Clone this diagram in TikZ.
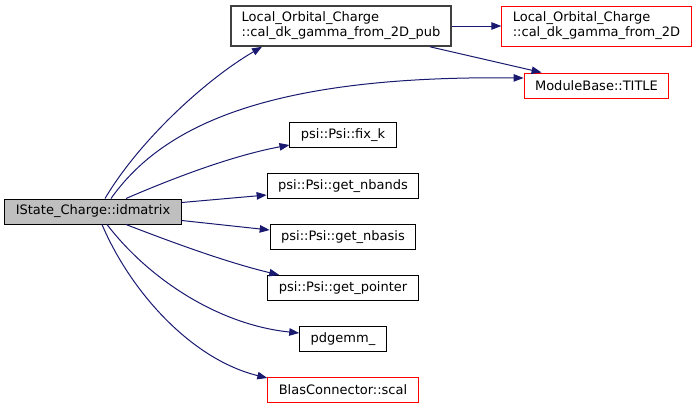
\documentclass[tikz,border=0pt]{standalone}
\usepackage{fontspec}
\setmainfont{DejaVu Sans}
\usetikzlibrary{arrows.meta, positioning}

\definecolor{edgeblue}{RGB}{25,25,112}
\definecolor{rootgray}{RGB}{191,191,191}

\begin{document}
\begin{tikzpicture}[x=1pt, y=1pt, node distance=51pt,
    block/.style={rectangle, draw=black, fill=white, line width=1pt, inner xsep=11pt, inner ysep=0pt, minimum height=25pt, font=\fontsize{13}{15}\selectfont},
    twoline/.style={block, align=left, minimum height=40pt},
    trunc/.style={draw=red},
    arrow/.style={line width=1pt, draw=edgeblue, -{Triangle[length=10pt, width=7.5pt]}}]
    \useasboundingbox (0,0) rectangle (697,-407);
    \node [block, fill=rootgray] (idm) at (93,-211.5) {IState\_Charge::idmatrix};
    \node [twoline, draw=black!75, line width=1.6pt] (pub) at (341,-26) {Local\_Orbital\_Charge\\::cal\_dk\_gamma\_from\_2D\_pub};
    \node [twoline, trunc, right of=pub, node distance=255.5pt] (gam) {Local\_Orbital\_Charge\\::cal\_dk\_gamma\_from\_2D};
    \node [block, trunc, below of=gam, node distance=59.5pt] (title) {ModuleBase::TITLE};
    \node [block] (fixk) at (343,-135) {psi::Psi::fix\_k};
    \node [block, below of=fixk] (nbands) {psi::Psi::get\_nbands};
    \node [block, below of=nbands] (nbasis) {psi::Psi::get\_nbasis};
    \node [block, below of=nbasis] (ptr) {psi::Psi::get\_pointer};
    \node [block, below of=ptr] (pdgemm) {pdgemm\_};
    \node [block, trunc, below of=pdgemm] (scal) {BlasConnector::scal};
    % calls from idmatrix
    \draw [arrow] ([xshift=12pt]idm.north) .. controls +(35,59) and +(-55,-32) .. ([xshift=-79pt]pub.south);
    \draw [arrow] ([xshift=18pt]idm.north) .. controls +(49,69) and +(-263,3) .. ([yshift=7.5pt]title.west);
    \draw [arrow] ([xshift=33pt]idm.north) .. controls +(44,19) and +(-59,-11) .. ([yshift=3pt]fixk.south west);
    \draw [arrow] ([yshift=9pt]idm.east) -- ([yshift=-9pt]nbands.west);
    \draw [arrow] ([yshift=-9pt]idm.east) -- ([yshift=7pt]nbasis.west);
    \draw [arrow] ([xshift=33pt]idm.south) .. controls +(44,-17) and +(-54,13) .. ([xshift=12pt]ptr.north west);
    \draw [arrow] ([xshift=14pt]idm.south) .. controls +(43,-56) and +(-79,8) .. ([yshift=6pt]pdgemm.west);
    \draw [arrow] ([xshift=9pt]idm.south) .. controls +(28,-66) and +(-77,19) .. ([yshift=-1pt]scal.north west);
    % calls from cal_dk_gamma_from_2D_pub
    \draw [arrow] (pub.east) -- (gam.west);
    \draw [arrow] ([xshift=89pt]pub.south) -- ([xshift=18pt]title.north west);
\end{tikzpicture}
\end{document}
